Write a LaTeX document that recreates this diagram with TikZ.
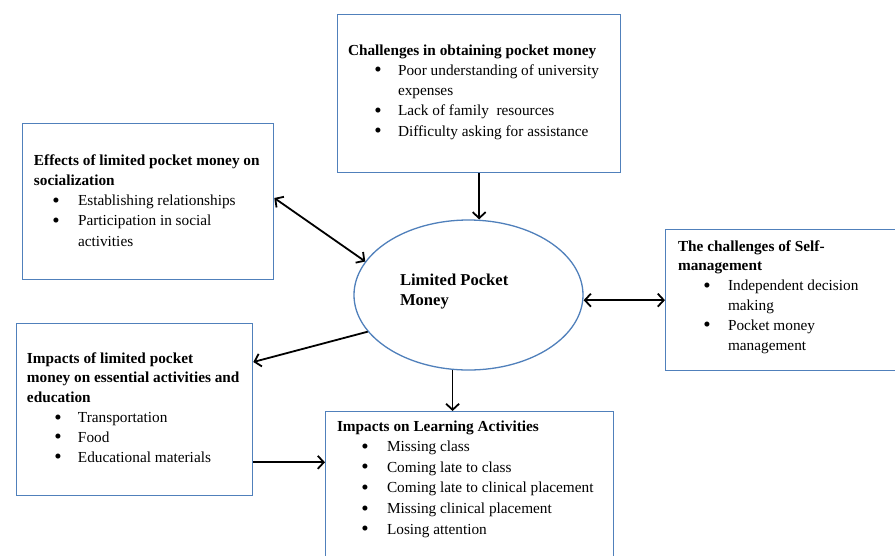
\documentclass[tikz,border=0pt]{standalone}
\usepackage{fontspec}
\setmainfont{Liberation Serif}
\usetikzlibrary{arrows.meta,shapes.geometric,calc}
\definecolor{bord}{RGB}{80,128,187}
\newcommand{\bigbul}{\raisebox{-1.6pt}{\fontsize{21}{21}\selectfont\textbullet}}
\newcommand{\itm}[3]{\makebox[0pt][l]{\hspace*{#1pt}\makebox[0pt][c]{\bigbul}}\hspace*{#2pt}#3}
\newcommand{\cnt}[2]{\hspace*{#1pt}#2}
\newcommand{\bodyfont}{\fontsize{15.3}{20.3}\selectfont}
\tikzset{
  boxnode/.style={draw=bord, line width=1.3pt, rectangle, inner sep=0pt, anchor=north west, fill=white},
  txt/.style={anchor=base west, inner sep=0pt, outer sep=0pt},
  conn/.style={line width=1.8pt, black},
  arr/.style={-{Straight Barb[length=6pt,width=13pt]}},
  barr/.style={{Straight Barb[length=6pt,width=13pt]}-{Straight Barb[length=6pt,width=13pt]}}
}
\begin{document}
\begin{tikzpicture}[x=1pt,y=-1pt]
\useasboundingbox[fill=white] (0,0) rectangle (895,555);
% boxes
\node[boxnode, minimum width=283pt, minimum height=158pt] (top) at (337,14) {};
\node[boxnode, minimum width=251pt, minimum height=156pt] (lt) at (22,123) {};
\node[boxnode, minimum width=245pt, minimum height=141pt] (rt) at (665,229) {};
\node[boxnode, minimum width=236pt, minimum height=172pt] (lb) at (16,323) {};
\node[boxnode, minimum width=288pt, minimum height=170pt] (bot) at (325,411) {};
\node[draw=bord, line width=1.3pt, ellipse, minimum width=229pt, minimum height=150pt, inner sep=0pt] (ell) at (468.5,295) {};
% texts
\node[txt] (toptxt) at (348,55) {\parbox[t]{300pt}{\bodyfont
\textbf{Challenges in obtaining pocket money}\\
\itm{30}{50}{Poor understanding of university}\\
\cnt{50}{expenses}\\
\itm{30}{50}{Lack of family\ \ resources}\\
\itm{30}{50}{Difficulty asking for assistance}}};
\node[txt] (lttxt) at (34,165) {\parbox[t]{260pt}{\bodyfont
\textbf{Effects of limited pocket money on}\\
\textbf{socialization}\\
\itm{22}{44}{Establishing relationships}\\
\itm{22}{44}{Participation in social}\\
\cnt{44}{activities}}};
\node[txt] (rttxt) at (678,251) {\parbox[t]{240pt}{\fontsize{15.3}{19.8}\selectfont
\textbf{The challenges of Self-}\\
\textbf{management}\\
\itm{29}{50}{Independent decision}\\
\cnt{50}{making}\\
\itm{29}{50}{Pocket money}\\
\cnt{50}{management}}};
\node[txt] (lbtxt) at (27,363) {\parbox[t]{240pt}{\fontsize{15.3}{19.8}\selectfont
\textbf{Impacts of limited pocket}\\
\textbf{money on essential activities and}\\
\textbf{education}\\
\itm{31}{51}{Transportation}\\
\itm{31}{51}{Food}\\
\itm{31}{51}{Educational materials}}};
\node[txt] (bottxt) at (337,431) {\parbox[t]{280pt}{\fontsize{15.3}{20.6}\selectfont
\textbf{Impacts on Learning Activities}\\
\itm{28}{50}{Missing class}\\
\itm{28}{50}{Coming late to class}\\
\itm{28}{50}{Coming late to clinical placement}\\
\itm{28}{50}{Missing clinical placement}\\
\itm{28}{50}{Losing attention}}};
\node[txt] (elltxt) at (400,285) {\parbox[t]{130pt}{\fontsize{16.6}{20.5}\selectfont\bfseries
Limited Pocket\\Money}};
% connectors
\coordinate (ltout) at ($(lt.north east)+(0,75)$);
\coordinate (lbin) at ($(lb.north east)+(0,39)$);
\coordinate (lbout) at ($(lb.south east)+(0,-34)$);
\draw[conn, arr] (top.south) -- (top.south |- ell.north);
\draw[conn, barr] (ltout) -- (ell.162);
\draw[conn, barr] (ell.east |- rt.west) -- (rt.west);
\draw[conn, arr] (ell.200) -- (lbin);
\draw[conn, arr] (ell.-102.5) -- (ell.-102.5 |- bot.north);
\draw[conn, arr] (lbout) -- (lbout -| bot.west);
\end{tikzpicture}
\end{document}
